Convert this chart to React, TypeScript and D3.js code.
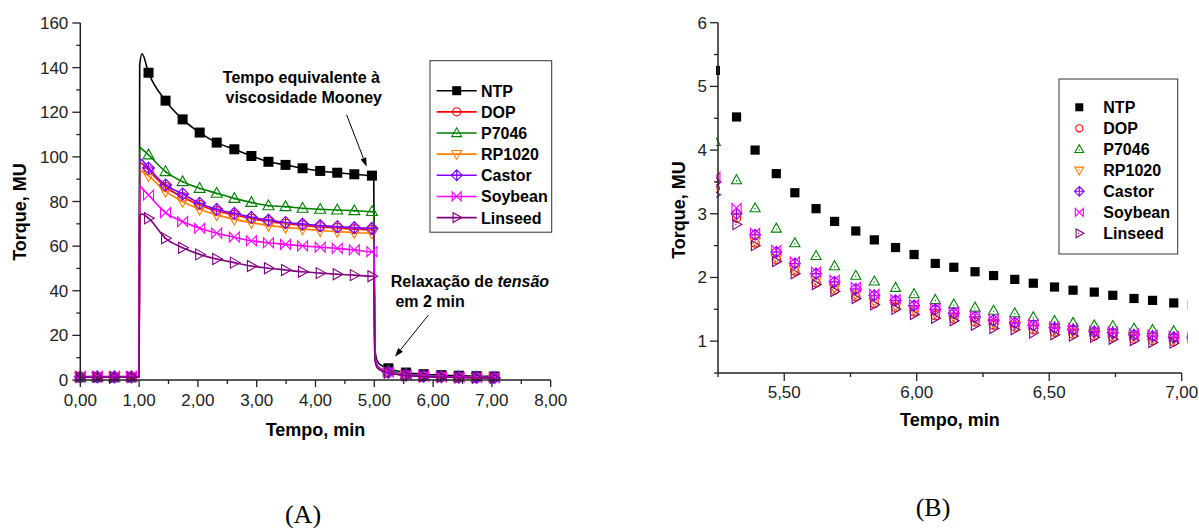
import React from 'react';
import * as d3 from 'd3';

// ---------- series ----------
const seriesNames = ['NTP', 'DOP', 'P7046', 'RP1020', 'Castor', 'Soybean', 'Linseed'];
const seriesColors = ['#000000', '#ff0000', '#008000', '#ff8000', '#8000ff', '#ff00ff', '#800080'];
const seriesSymbols = ['square', 'circle', 'triUp', 'triDown', 'diamondPlus', 'bowtie', 'triRight'];

// ---------- panel A (full test) ----------
const preTimesA = [0.0, 0.29, 0.58, 0.87, 1.0];
const preValuesA = [
  [1.2, 1.2, 1.2, 1.2, 1.2],
  [1.4, 1.4, 1.4, 1.4, 1.4],
  [1.3, 1.3, 1.3, 1.3, 1.3],
  [1.5, 1.5, 1.5, 1.5, 1.5],
  [1.4, 1.4, 1.4, 1.4, 1.4],
  [1.6, 1.6, 1.6, 1.6, 1.6],
  [1.3, 1.3, 1.3, 1.3, 1.3],
];
const riseTimesA = [1.01, 1.05];
const riseValuesA = [
  [141, 146.2],
  [97.5, 97],
  [104.5, 103.5],
  [94.5, 93.5],
  [99, 98.5],
  [87, 86],
  [73.5, 74.4],
];
const mainTimesA = [1.16, 1.45, 1.74, 2.03, 2.32, 2.62, 2.91, 3.2, 3.49, 3.78, 4.08, 4.37, 4.66, 4.96];
const mainValuesA = [
  [137.7, 125.2, 116.8, 110.9, 106.4, 103.4, 100.4, 97.8, 96.4, 94.9, 93.7, 92.9, 92.2, 91.6],
  [94.0, 86.5, 82.0, 78.4, 75.7, 74.0, 72.3, 71.0, 70.0, 69.3, 68.6, 68.1, 67.6, 67.3],
  [100.9, 93.4, 88.9, 85.9, 83.7, 81.4, 79.6, 78.1, 77.7, 77.0, 76.5, 76.2, 75.9, 75.5],
  [91.5, 84.5, 80.0, 76.5, 74.0, 72.0, 70.5, 69.3, 68.4, 67.7, 67.0, 66.5, 66.1, 65.8],
  [95.0, 87.4, 83.4, 79.2, 76.5, 74.7, 72.9, 71.7, 70.6, 69.9, 69.2, 68.7, 68.3, 68.0],
  [82.9, 75.0, 71.0, 68.0, 65.8, 64.0, 62.4, 61.5, 60.8, 60.1, 59.5, 59.0, 58.3, 57.5],
  [72.5, 63.5, 59.3, 56.3, 54.2, 52.6, 51.1, 50.1, 49.3, 48.5, 47.9, 47.4, 47.0, 46.5],
];
const dropTimesA = [4.99, 5.01, 5.05, 5.12];
const dropValuesA = [
  [91.6, 14, 8.5, 6.5],
  [67.3, 11, 6.0, 4.4],
  [75.5, 12, 6.5, 5.0],
  [65.8, 11, 5.9, 4.4],
  [68.0, 11, 6.1, 4.5],
  [57.5, 10.5, 6.2, 4.6],
  [46.5, 9, 5.5, 4.2],
];

// ---------- panel B (relaxation, shared tail of A) ----------
const tailTimes = [5.24, 5.32, 5.39, 5.47, 5.54, 5.62, 5.69, 5.77, 5.84, 5.92, 5.99, 6.07, 6.14, 6.22, 6.29, 6.37, 6.44, 6.52, 6.59, 6.67, 6.74, 6.82, 6.89, 6.97, 7.04];
const tailValues = [
  [5.25, 4.52, 4.0, 3.63, 3.33, 3.08, 2.88, 2.73, 2.59, 2.47, 2.36, 2.22, 2.16, 2.09, 2.03, 1.97, 1.91, 1.85, 1.8, 1.77, 1.72, 1.67, 1.64, 1.6, 1.57],
  [3.4, 2.93, 2.54, 2.28, 2.1, 1.92, 1.8, 1.7, 1.59, 1.53, 1.46, 1.4, 1.35, 1.3, 1.25, 1.22, 1.18, 1.14, 1.11, 1.08, 1.06, 1.03, 1.01, 0.99, 0.98],
  [4.13, 3.53, 3.09, 2.77, 2.54, 2.34, 2.18, 2.03, 1.94, 1.84, 1.74, 1.65, 1.58, 1.53, 1.48, 1.44, 1.38, 1.32, 1.29, 1.25, 1.24, 1.2, 1.18, 1.16, 1.14],
  [3.45, 2.97, 2.56, 2.3, 2.12, 1.95, 1.83, 1.73, 1.62, 1.55, 1.49, 1.43, 1.38, 1.33, 1.28, 1.25, 1.21, 1.17, 1.14, 1.11, 1.09, 1.06, 1.04, 1.02, 1.01],
  [3.5, 3.0, 2.67, 2.4, 2.22, 2.06, 1.93, 1.82, 1.72, 1.64, 1.56, 1.5, 1.44, 1.38, 1.33, 1.29, 1.25, 1.21, 1.18, 1.15, 1.13, 1.1, 1.08, 1.06, 1.05],
  [3.58, 3.09, 2.7, 2.43, 2.25, 2.09, 1.96, 1.85, 1.74, 1.66, 1.58, 1.52, 1.46, 1.4, 1.34, 1.31, 1.27, 1.23, 1.2, 1.16, 1.15, 1.12, 1.1, 1.08, 1.06],
  [3.3, 2.83, 2.5, 2.25, 2.06, 1.89, 1.78, 1.67, 1.57, 1.5, 1.42, 1.36, 1.32, 1.25, 1.2, 1.18, 1.13, 1.1, 1.08, 1.06, 1.03, 1.01, 0.98, 0.97, 0.95],
];
const tailMarkerStep = 4;

// ---------- ticks ----------
const aYMajor = [0, 20, 40, 60, 80, 100, 120, 140, 160];
const aYMinor = [10, 30, 50, 70, 90, 110, 130, 150];
const aXMajor = [0, 1, 2, 3, 4, 5, 6, 7, 8];
const aXMinor = [0.5, 1.5, 2.5, 3.5, 4.5, 5.5, 6.5, 7.5];
const bYMajor = [1, 2, 3, 4, 5, 6];
const bYMinor = [0.5, 1.5, 2.5, 3.5, 4.5, 5.5];
const bXMajor = [5.5, 6.0, 6.5, 7.0];
const bXMinor = [5.25, 5.75, 6.25, 6.75];

const SANS = '"Liberation Sans", Arial, Helvetica, sans-serif';
const SERIF = '"Liberation Serif", "Times New Roman", serif';
const AXIS = '#222';
const fmtComma = (v: number) => d3.format('.2f')(v).replace('.', ',');

function Marker({ kind, color, x, y, s }: { kind: string; color: string; x: number; y: number; s: number }) {
  const sw = 1.1;
  const common = { stroke: color, strokeWidth: sw, fill: 'none' } as any;
  const tr = `translate(${x},${y})`;
  switch (kind) {
    case 'square':
      return <rect x={x - s} y={y - s} width={2 * s} height={2 * s} fill={color} />;
    case 'circle':
      return <circle cx={x} cy={y} r={s * 0.9} {...common} />;
    case 'triUp':
      return (
        <g transform={tr}>
          <path d={`M0,${-s * 1.15}L${s * 1.1},${s * 0.8}L${-s * 1.1},${s * 0.8}Z`} {...common} />
          <circle cx={0} cy={s * 0.15} r={0.7} fill={color} />
        </g>
      );
    case 'triDown':
      return (
        <g transform={tr}>
          <path d={`M0,${s * 1.15}L${s * 1.1},${-s * 0.8}L${-s * 1.1},${-s * 0.8}Z`} {...common} />
          <circle cx={0} cy={-s * 0.15} r={0.7} fill={color} />
        </g>
      );
    case 'triRight':
      return (
        <g transform={tr}>
          <path d={`M${s * 1.15},0L${-s * 0.8},${-s * 1.1}L${-s * 0.8},${s * 1.1}Z`} {...common} />
          <circle cx={-s * 0.15} cy={0} r={0.7} fill={color} />
        </g>
      );
    case 'diamondPlus': {
      const d = s * 1.2;
      return (
        <g transform={tr}>
          <path d={`M0,${-d}L${d},0L0,${d}L${-d},0Z M0,${-d}V${d} M${-d},0H${d}`} {...common} />
        </g>
      );
    }
    case 'bowtie':
      return (
        <g transform={tr}>
          <path d={`M${-s},${-s}L${s},${s}L${s},${-s}L${-s},${s}Z`} {...common} />
        </g>
      );
    default:
      return null;
  }
}

function ArrowLine({ x1, y1, x2, y2 }: { x1: number; y1: number; x2: number; y2: number }) {
  const ang = Math.atan2(y2 - y1, x2 - x1);
  const L = 9, W = 3;
  const bx = x2 - L * Math.cos(ang), by = y2 - L * Math.sin(ang);
  const px = -Math.sin(ang) * W, py = Math.cos(ang) * W;
  return (
    <g>
      <line x1={x1} y1={y1} x2={bx} y2={by} stroke="#000" strokeWidth={1} />
      <path d={`M${x2},${y2}L${bx + px},${by + py}L${bx - px},${by - py}Z`} fill="#000" />
    </g>
  );
}

function PanelA() {
  const x = d3.scaleLinear().domain([0, 8]).range([80.3, 550.7]);
  const y = d3.scaleLinear().domain([0, 160]).range([380, 23]);
  const line = d3
    .line<[number, number]>()
    .x((d) => x(d[0]))
    .y((d) => y(d[1]))
    .curve(d3.curveMonotoneX);

  const seriesPts = seriesNames.map((_, i) => {
    const pts: [number, number][] = [];
    preTimesA.forEach((t, k) => pts.push([t, preValuesA[i][k]]));
    riseTimesA.forEach((t, k) => pts.push([t, riseValuesA[i][k]]));
    mainTimesA.forEach((t, k) => pts.push([t, mainValuesA[i][k]]));
    dropTimesA.forEach((t, k) => pts.push([t, dropValuesA[i][k]]));
    tailTimes.forEach((t, k) => pts.push([t, tailValues[i][k]]));
    const marks: [number, number][] = [];
    preTimesA.slice(0, 4).forEach((t, k) => marks.push([t, preValuesA[i][k]]));
    mainTimesA.forEach((t, k) => marks.push([t, mainValuesA[i][k]]));
    tailTimes.forEach((t, k) => {
      if (k % tailMarkerStep === 0) marks.push([t, tailValues[i][k]]);
    });
    return { pts, marks };
  });

  const x0 = x(0), x1 = x(8), y0 = y(0), y1 = y(160);
  return (
    <g>
      {seriesPts.map((s, i) => (
        <g key={seriesNames[i]}>
          <path d={line(s.pts) || ''} fill="none" stroke={seriesColors[i]} strokeWidth={1.6} />
          {s.marks.map((m, k) => (
            <Marker key={k} kind={seriesSymbols[i]} color={seriesColors[i]} x={x(m[0])} y={y(m[1])} s={i === 0 ? 5 : 5} />
          ))}
        </g>
      ))}
      {/* axes */}
      <line x1={x0} y1={y1} x2={x0} y2={y0} stroke={AXIS} strokeWidth={1.5} />
      <line x1={x0} y1={y0} x2={x1} y2={y0} stroke={AXIS} strokeWidth={1.5} />
      {aYMajor.map((v) => (
        <g key={'ym' + v}>
          <line x1={x0 - 8} x2={x0} y1={y(v)} y2={y(v)} stroke={AXIS} strokeWidth={1.3} />
          <text x={x0 - 12} y={y(v) + 6} textAnchor="end" fontSize={17} fontFamily={SANS} fill="#222">{v}</text>
        </g>
      ))}
      {aYMinor.map((v) => (
        <line key={'yn' + v} x1={x0 - 4} x2={x0} y1={y(v)} y2={y(v)} stroke={AXIS} strokeWidth={1.3} />
      ))}
      {aXMajor.map((v) => (
        <g key={'xm' + v}>
          <line x1={x(v)} x2={x(v)} y1={y0} y2={y0 + 7} stroke={AXIS} strokeWidth={1.3} />
          <text x={x(v)} y={y0 + 26} textAnchor="middle" fontSize={17} fontFamily={SANS} fill="#222">{fmtComma(v)}</text>
        </g>
      ))}
      {aXMinor.map((v) => (
        <line key={'xn' + v} x1={x(v)} x2={x(v)} y1={y0} y2={y0 + 4} stroke={AXIS} strokeWidth={1.3} />
      ))}
      <text x={(x0 + x1) / 2} y={436} textAnchor="middle" fontSize={18} fontWeight="bold" fontFamily={SANS}>Tempo, min</text>
      <text transform={`translate(26,212) rotate(-90)`} textAnchor="middle" fontSize={18} fontWeight="bold" fontFamily={SANS}>Torque, MU</text>

      {/* annotations */}
      <text x={x(3.76)} y={y(133.3)} textAnchor="middle" fontSize={16} fontWeight="bold" fontFamily={SANS}>Tempo equivalente à</text>
      <text x={x(3.8)} y={y(124)} textAnchor="middle" fontSize={16} fontWeight="bold" fontFamily={SANS}>viscosidade Mooney</text>
      <ArrowLine x1={x(4.53)} y1={y(118.8)} x2={x(4.87)} y2={y(95.6)} />
      <text x={x(5.28)} y={y(41.8)} fontSize={16} fontWeight="bold" fontFamily={SANS}>
        Relaxação de <tspan fontStyle="italic">tensão</tspan>
      </text>
      <text x={x(5.36)} y={y(32.9)} fontSize={16} fontWeight="bold" fontFamily={SANS}>em 2 min</text>
      <ArrowLine x1={x(5.92)} y1={y(29.1)} x2={x(5.35)} y2={y(10.4)} />

      {/* legend */}
      <rect x={430} y={60.7} width={121.7} height={171.5} fill="#fff" stroke="#333" strokeWidth={1} />
      {seriesNames.map((n, i) => {
        const cy = 90.7 + i * 21.15;
        return (
          <g key={'lg' + n}>
            <line x1={436.7} x2={476.7} y1={cy} y2={cy} stroke={seriesColors[i]} strokeWidth={1.6} />
            <Marker kind={seriesSymbols[i]} color={seriesColors[i]} x={456.7} y={cy} s={4.5} />
            <text x={481} y={cy + 6} fontSize={16} fontWeight="bold" fontFamily={SANS}>{n}</text>
          </g>
        );
      })}
      <text x={303} y={523} textAnchor="middle" fontSize={26} fontFamily={SERIF}>(A)</text>
    </g>
  );
}

function PanelB() {
  const x = d3.scaleLinear().domain([5.25, 7.0]).range([718, 1181.7]);
  const y = d3.scaleLinear().domain([0.5, 6]).range([373, 22.7]);
  const x0 = x(5.25), x1 = x(7.0), y0 = y(0.5), y1 = y(6);
  return (
    <g>
      <defs>
        <clipPath id="clipB">
          <rect x={716} y={y1 - 10} width={x1 - 716 + 6} height={y0 - y1 + 10} />
        </clipPath>
      </defs>
      <g clipPath="url(#clipB)">
        {seriesNames.map((n, i) => (
          <g key={'b' + n}>
            {tailTimes.map((t, k) => (
              <Marker key={k} kind={seriesSymbols[i]} color={seriesColors[i]} x={x(t)} y={y(tailValues[i][k])} s={i === 0 ? 4.6 : 4.6} />
            ))}
          </g>
        ))}
      </g>
      <line x1={x0} y1={y1} x2={x0} y2={y0} stroke={AXIS} strokeWidth={1.5} />
      <line x1={x0} y1={y0} x2={x1} y2={y0} stroke={AXIS} strokeWidth={1.5} />
      {bYMajor.map((v) => (
        <g key={'bym' + v}>
          <line x1={x0 - 8} x2={x0} y1={y(v)} y2={y(v)} stroke={AXIS} strokeWidth={1.3} />
          <text x={x0 - 11} y={y(v) + 6} textAnchor="end" fontSize={17} fontFamily={SANS} fill="#222">{v}</text>
        </g>
      ))}
      {bYMinor.map((v) => (
        <line key={'byn' + v} x1={x0 - 4} x2={x0} y1={y(v)} y2={y(v)} stroke={AXIS} strokeWidth={1.3} />
      ))}
      {bXMajor.map((v) => (
        <g key={'bxm' + v}>
          <line x1={x(v)} x2={x(v)} y1={y0} y2={y0 + 8} stroke={AXIS} strokeWidth={1.3} />
          <text x={x(v)} y={y0 + 25} textAnchor="middle" fontSize={17} fontFamily={SANS} fill="#222">{fmtComma(v)}</text>
        </g>
      ))}
      {bXMinor.map((v) => (
        <line key={'bxn' + v} x1={x(v)} x2={x(v)} y1={y0} y2={y0 + 4} stroke={AXIS} strokeWidth={1.3} />
      ))}
      <text x={(x0 + x1) / 2} y={426} textAnchor="middle" fontSize={18} fontWeight="bold" fontFamily={SANS}>Tempo, min</text>
      <text transform={`translate(685,210) rotate(-90)`} textAnchor="middle" fontSize={18} fontWeight="bold" fontFamily={SANS}>Torque, MU</text>

      <rect x={1059} y={79} width={118.7} height={175} fill="#fff" stroke="#333" strokeWidth={1} />
      {seriesNames.map((n, i) => {
        const cy = 107.3 + i * 21.0;
        return (
          <g key={'blg' + n}>
            <Marker kind={seriesSymbols[i]} color={seriesColors[i]} x={1079.3} y={cy} s={4} />
            <text x={1103.3} y={cy + 6} fontSize={16} fontWeight="bold" fontFamily={SANS}>{n}</text>
          </g>
        );
      })}
      <text x={933} y={516} textAnchor="middle" fontSize={26} fontFamily={SERIF}>(B)</text>
    </g>
  );
}

export default function App() {
  return (
    <svg
      width={1199}
      height={528}
      viewBox="0 0 1199 528"
      style={{ position: 'absolute', left: 0, top: 0, background: '#fff' }}
    >
      <rect x={0} y={0} width={1199} height={528} fill="#fff" />
      <PanelA />
      <PanelB />
    </svg>
  );
}
